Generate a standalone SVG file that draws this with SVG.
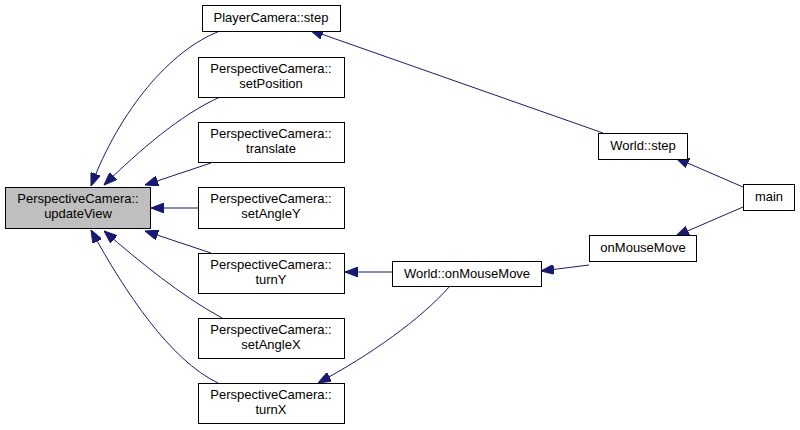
<svg xmlns="http://www.w3.org/2000/svg" width="800" height="430" viewBox="0 0 800 430">
<style>
.n rect{fill:#fff;stroke:#000;stroke-width:1}
.n.hl rect{fill:#bfbfbf}
text{font-family:"Liberation Sans",Arial,sans-serif;font-size:13px;text-anchor:middle;fill:#000}
.e path{fill:none;stroke:#191970;stroke-width:1;marker-end:url(#ah)}
</style>
<defs>
<marker id="ah" viewBox="0 0 13 10" refX="13" refY="5" markerWidth="13" markerHeight="10" markerUnits="userSpaceOnUse" orient="auto">
<path d="M0,0 L13,5 L0,10 z" fill="#191970" stroke="#191970"/>
</marker>
</defs>
<rect width="800" height="430" fill="#fff"/>
<g class="e" id="edges">
<path d="M220,31 C170,50 120,110 91,186"/>
<path d="M220,97 C180,115 140,150 104,185"/>
<path d="M211,163 L145,185"/>
<path d="M198,208 L151,208"/>
<path d="M211,253 L145,231"/>
<path d="M222,318 C180,295 140,262 104,231"/>
<path d="M218,383 C170,360 125,292 91,230"/>
<path d="M603,133 L310,30"/>
<path d="M392,272 L345,272"/>
<path d="M450,286 C420,320 370,355 318,383"/>
<path d="M743,187 L676,158"/>
<path d="M743,207 L676,236"/>
<path d="M589,265 L541,271"/>
</g>
<g id="updateView" class="n hl"><rect x="5.5" y="187.5" width="145" height="41"/><text x="78" y="203">PerspectiveCamera::</text><text x="78" y="218">updateView</text></g>
<g id="playerStep" class="n"><rect x="202.5" y="5.5" width="138" height="26"/><text x="271" y="22">PlayerCamera::step</text></g>
<g id="setPosition" class="n"><rect x="198.5" y="57.5" width="146" height="40"/><text x="271" y="73">PerspectiveCamera::</text><text x="271" y="88">setPosition</text></g>
<g id="translate" class="n"><rect x="198.5" y="122.5" width="146" height="40"/><text x="271" y="138">PerspectiveCamera::</text><text x="271" y="153">translate</text></g>
<g id="setAngleY" class="n"><rect x="198.5" y="187.5" width="146" height="41"/><text x="271" y="203">PerspectiveCamera::</text><text x="271" y="218">setAngleY</text></g>
<g id="turnY" class="n"><rect x="198.5" y="253.5" width="146" height="40"/><text x="271" y="269">PerspectiveCamera::</text><text x="271" y="284">turnY</text></g>
<g id="setAngleX" class="n"><rect x="198.5" y="318.5" width="146" height="40"/><text x="271" y="334">PerspectiveCamera::</text><text x="271" y="349">setAngleX</text></g>
<g id="turnX" class="n"><rect x="198.5" y="383.5" width="146" height="40"/><text x="271" y="399">PerspectiveCamera::</text><text x="271" y="414">turnX</text></g>
<g id="worldStep" class="n"><rect x="598.5" y="133.5" width="89" height="26"/><text x="643" y="150">World::step</text></g>
<g id="main" class="n"><rect x="743.5" y="184.5" width="51" height="26"/><text x="769" y="201">main</text></g>
<g id="onMouseMove" class="n"><rect x="589.5" y="235.5" width="107" height="26"/><text x="643" y="252">onMouseMove</text></g>
<g id="worldOnMouseMove" class="n"><rect x="392.5" y="261.5" width="149" height="25"/><text x="467" y="278">World::onMouseMove</text></g>
</svg>
